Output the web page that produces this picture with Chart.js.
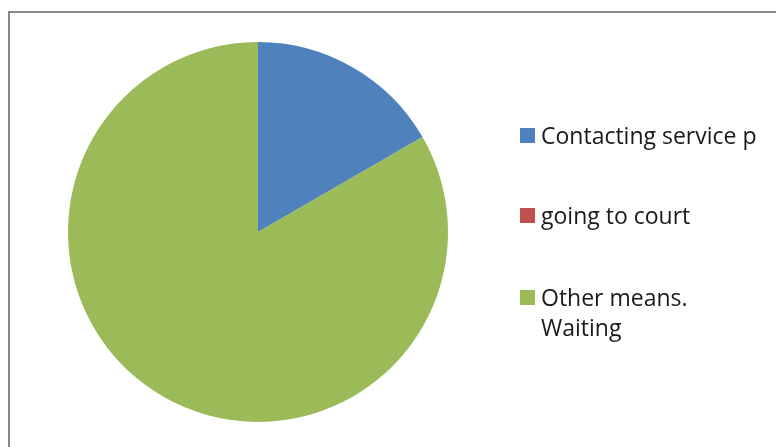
<!DOCTYPE html>
<html>
<head>
<meta charset="utf-8">
<style>
  html, body { margin: 0; padding: 0; background: #ffffff; }
  #wrap { width: 776px; height: 447px; position: relative; }
</style>
<script src="https://cdn.jsdelivr.net/npm/chart.js@4/dist/chart.umd.min.js"></script>
</head>
<body>
<div id="wrap"><canvas id="c" width="776" height="447"></canvas></div>
<script>
// Categories and their shares
const categories = ["Contacting service p", "going to court", "Other means. Waiting"];
const legendLines = [["Contacting service p"], ["going to court"], ["Other means.", "Waiting"]];
const counts = [1, 0, 5];
const colors = ["#4f81bd", "#c0504d", "#9bbb59"];

// Frame lines along the top and left of the chart box
const framePlugin = {
  id: "frame",
  beforeDraw(chart) {
    const ctx = chart.ctx;
    ctx.save();
    ctx.fillStyle = "#ffffff";
    ctx.fillRect(0, 0, chart.width, chart.height);
    ctx.fillStyle = "#878787";
    ctx.fillRect(8, 11, chart.width - 8, 2);
    ctx.fillRect(8, 11, 2, chart.height - 11);
    ctx.restore();
  }
};

// Legend on the right: colour square plus label, the last label wrapped onto two lines
const sideLegend = {
  id: "sideLegend",
  afterDraw(chart) {
    const ctx = chart.ctx;
    const rows = [135.5, 215.5, 297.5];
    ctx.save();
    ctx.font = "23px 'Open Sans', sans-serif";
    ctx.textBaseline = "alphabetic";
    legendLines.forEach((lines, i) => {
      const cy = rows[i];
      ctx.fillStyle = colors[i];
      ctx.fillRect(520, cy - 7.5, 15, 15);
      ctx.fillStyle = "#1a1a1a";
      lines.forEach((t, j) => {
        ctx.fillText(t, 541, cy + 8 + j * 30);
      });
    });
    ctx.restore();
  }
};

new Chart(document.getElementById("c"), {
  type: "pie",
  data: {
    labels: categories,
    datasets: [{
      data: counts,
      backgroundColor: colors,
      borderWidth: 0
    }]
  },
  options: {
    responsive: false,
    animation: false,
    layout: { padding: { left: 68, right: 328, top: 42, bottom: 25 } },
    plugins: {
      legend: { display: false },
      tooltip: { enabled: false }
    }
  },
  plugins: [framePlugin, sideLegend]
});
</script>
</body>
</html>
